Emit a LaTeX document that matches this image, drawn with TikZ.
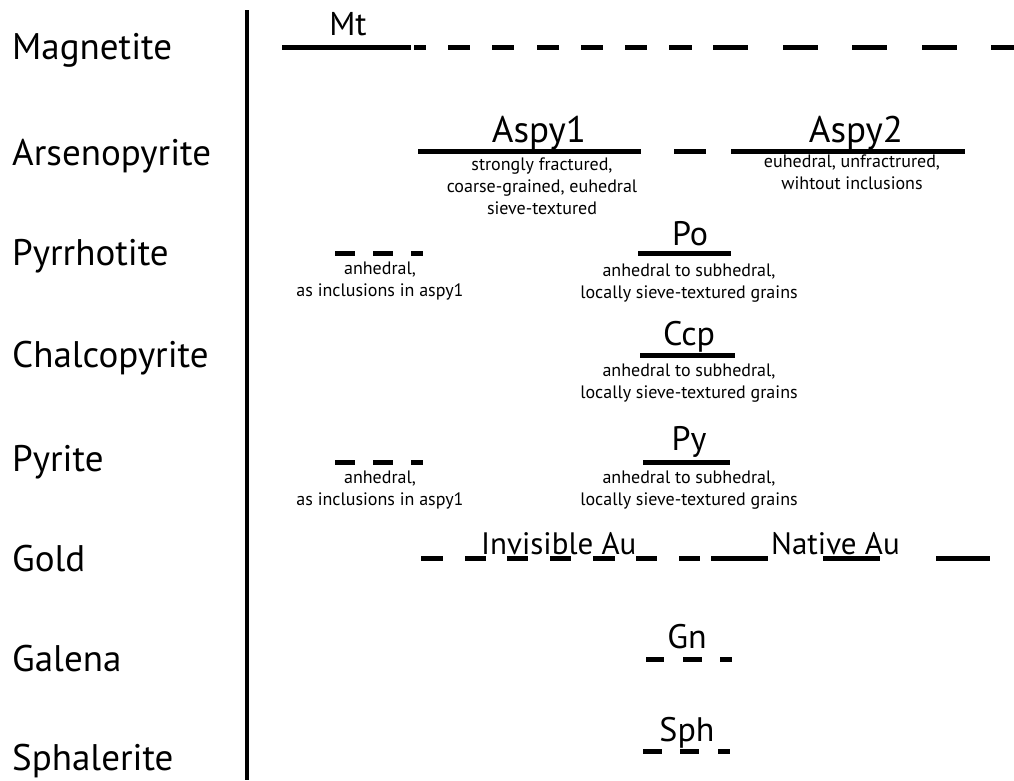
\documentclass[tikz,border=0pt]{standalone}
\usepackage{fontspec}
\setmainfont{PT Sans}
\tikzset{
  stage/.style={line width=5pt,line cap=butt},
  mineral/.style={anchor=base west,inner sep=0pt,font=\fontsize{37}{42}\selectfont},
  phase/.style={anchor=base,inner sep=0pt,font=\fontsize{34}{40}\selectfont},
  bigphase/.style={phase,font=\fontsize{37}{42}\selectfont},
  note/.style={anchor=north,inner sep=0pt,align=center,font=\fontsize{18}{22}\selectfont},
}
\begin{document}
\begin{tikzpicture}[x=1pt,y=-1pt]
  \useasboundingbox (0,0) rectangle (1014,780);
  % time axis
  \draw[line width=4pt] (247,10) -- (247,780);
  % minerals
  \node[mineral] (mag) at (12,59) {Magnetite};
  \node[mineral] (asp) at (12,165) {Arsenopyrite};
  \node[mineral] (pyrr) at (12,265) {Pyrrhotite};
  \node[mineral] (chal) at (12,367) {Chalcopyrite};
  \node[mineral] (pyr) at (12,471) {Pyrite};
  \node[mineral] (gold) at (12,571) {Gold};
  \node[mineral] (gal) at (12,671) {Galena};
  \node[mineral] (sphal) at (12,770) {Sphalerite};
  % magnetite
  \foreach \a/\b in {282/411,414/426,448/470,492/514,537/559,581/603,625/647,669/692,713/748,783/818,852/887,922/957,991/1014}
    \draw[stage] (\a,47) -- (\b,47);
  \node[phase,font=\fontsize{33}{40}\selectfont] (mt) at (348,35) {Mt};
  % arsenopyrite
  \foreach \a/\b in {418/641,674/706,731/965}
    \draw[stage] (\a,151) -- (\b,151);
  \node[bigphase] (aspy1) at (539,142) {Aspy1};
  \node[bigphase] (aspy2) at (856,142) {Aspy2};
  \node[note] (aspy1n) at (542,158) {strongly fractured,\\coarse-grained, euhedral\\sieve-textured};
  \node[note] (aspy2n) at (852,155) {euhedral, unfractrured,\\wihtout inclusions};
  % pyrrhotite
  \foreach \a/\b in {335/355,373/393,411/423}
    \draw[stage] (\a,253) -- (\b,253);
  \draw[stage] (638,253) -- (731,253);
  \node[phase] (po) at (690,245) {Po};
  \node[note] (pyrrn) at (380,262) {anhedral,\\as inclusions in aspy1};
  \node[note] (pon) at (689,264) {anhedral to subhedral,\\locally sieve-textured grains};
  % chalcopyrite
  \draw[stage] (640,355) -- (735,355);
  \node[phase] (ccp) at (689,345) {Ccp};
  \node[note] (ccpn) at (689,364) {anhedral to subhedral,\\locally sieve-textured grains};
  % pyrite
  \foreach \a/\b in {335/355,373/393,411/423}
    \draw[stage] (\a,462) -- (\b,462);
  \draw[stage] (643,462) -- (730,462);
  \node[phase] (py) at (689,450) {Py};
  \node[note] (pyrn) at (380,471) {anhedral,\\as inclusions in aspy1};
  \node[note] (pyn) at (689,471) {anhedral to subhedral,\\locally sieve-textured grains};
  % gold
  \foreach \a/\b in {421/443,465/486,507/528,550/571,593/615,636/657,679/700,711/768,823/880,936/990}
    \draw[stage] (\a,558) -- (\b,558);
  \node[phase,anchor=base west,font=\fontsize{31}{36}\selectfont] (invau) at (481,554) {Invisible Au};
  \node[phase,anchor=base west,font=\fontsize{31}{36}\selectfont] (natau) at (771,554) {Native Au};
  % galena
  \foreach \a/\b in {646/664,683/702,720/732}
    \draw[stage] (\a,659) -- (\b,659);
  \node[phase] (gn) at (687,648) {Gn};
  % sphalerite
  \foreach \a/\b in {643/662,680/699,718/730}
    \draw[stage] (\a,751) -- (\b,751);
  \node[phase] (sph) at (687,741) {Sph};
\end{tikzpicture}
\end{document}
